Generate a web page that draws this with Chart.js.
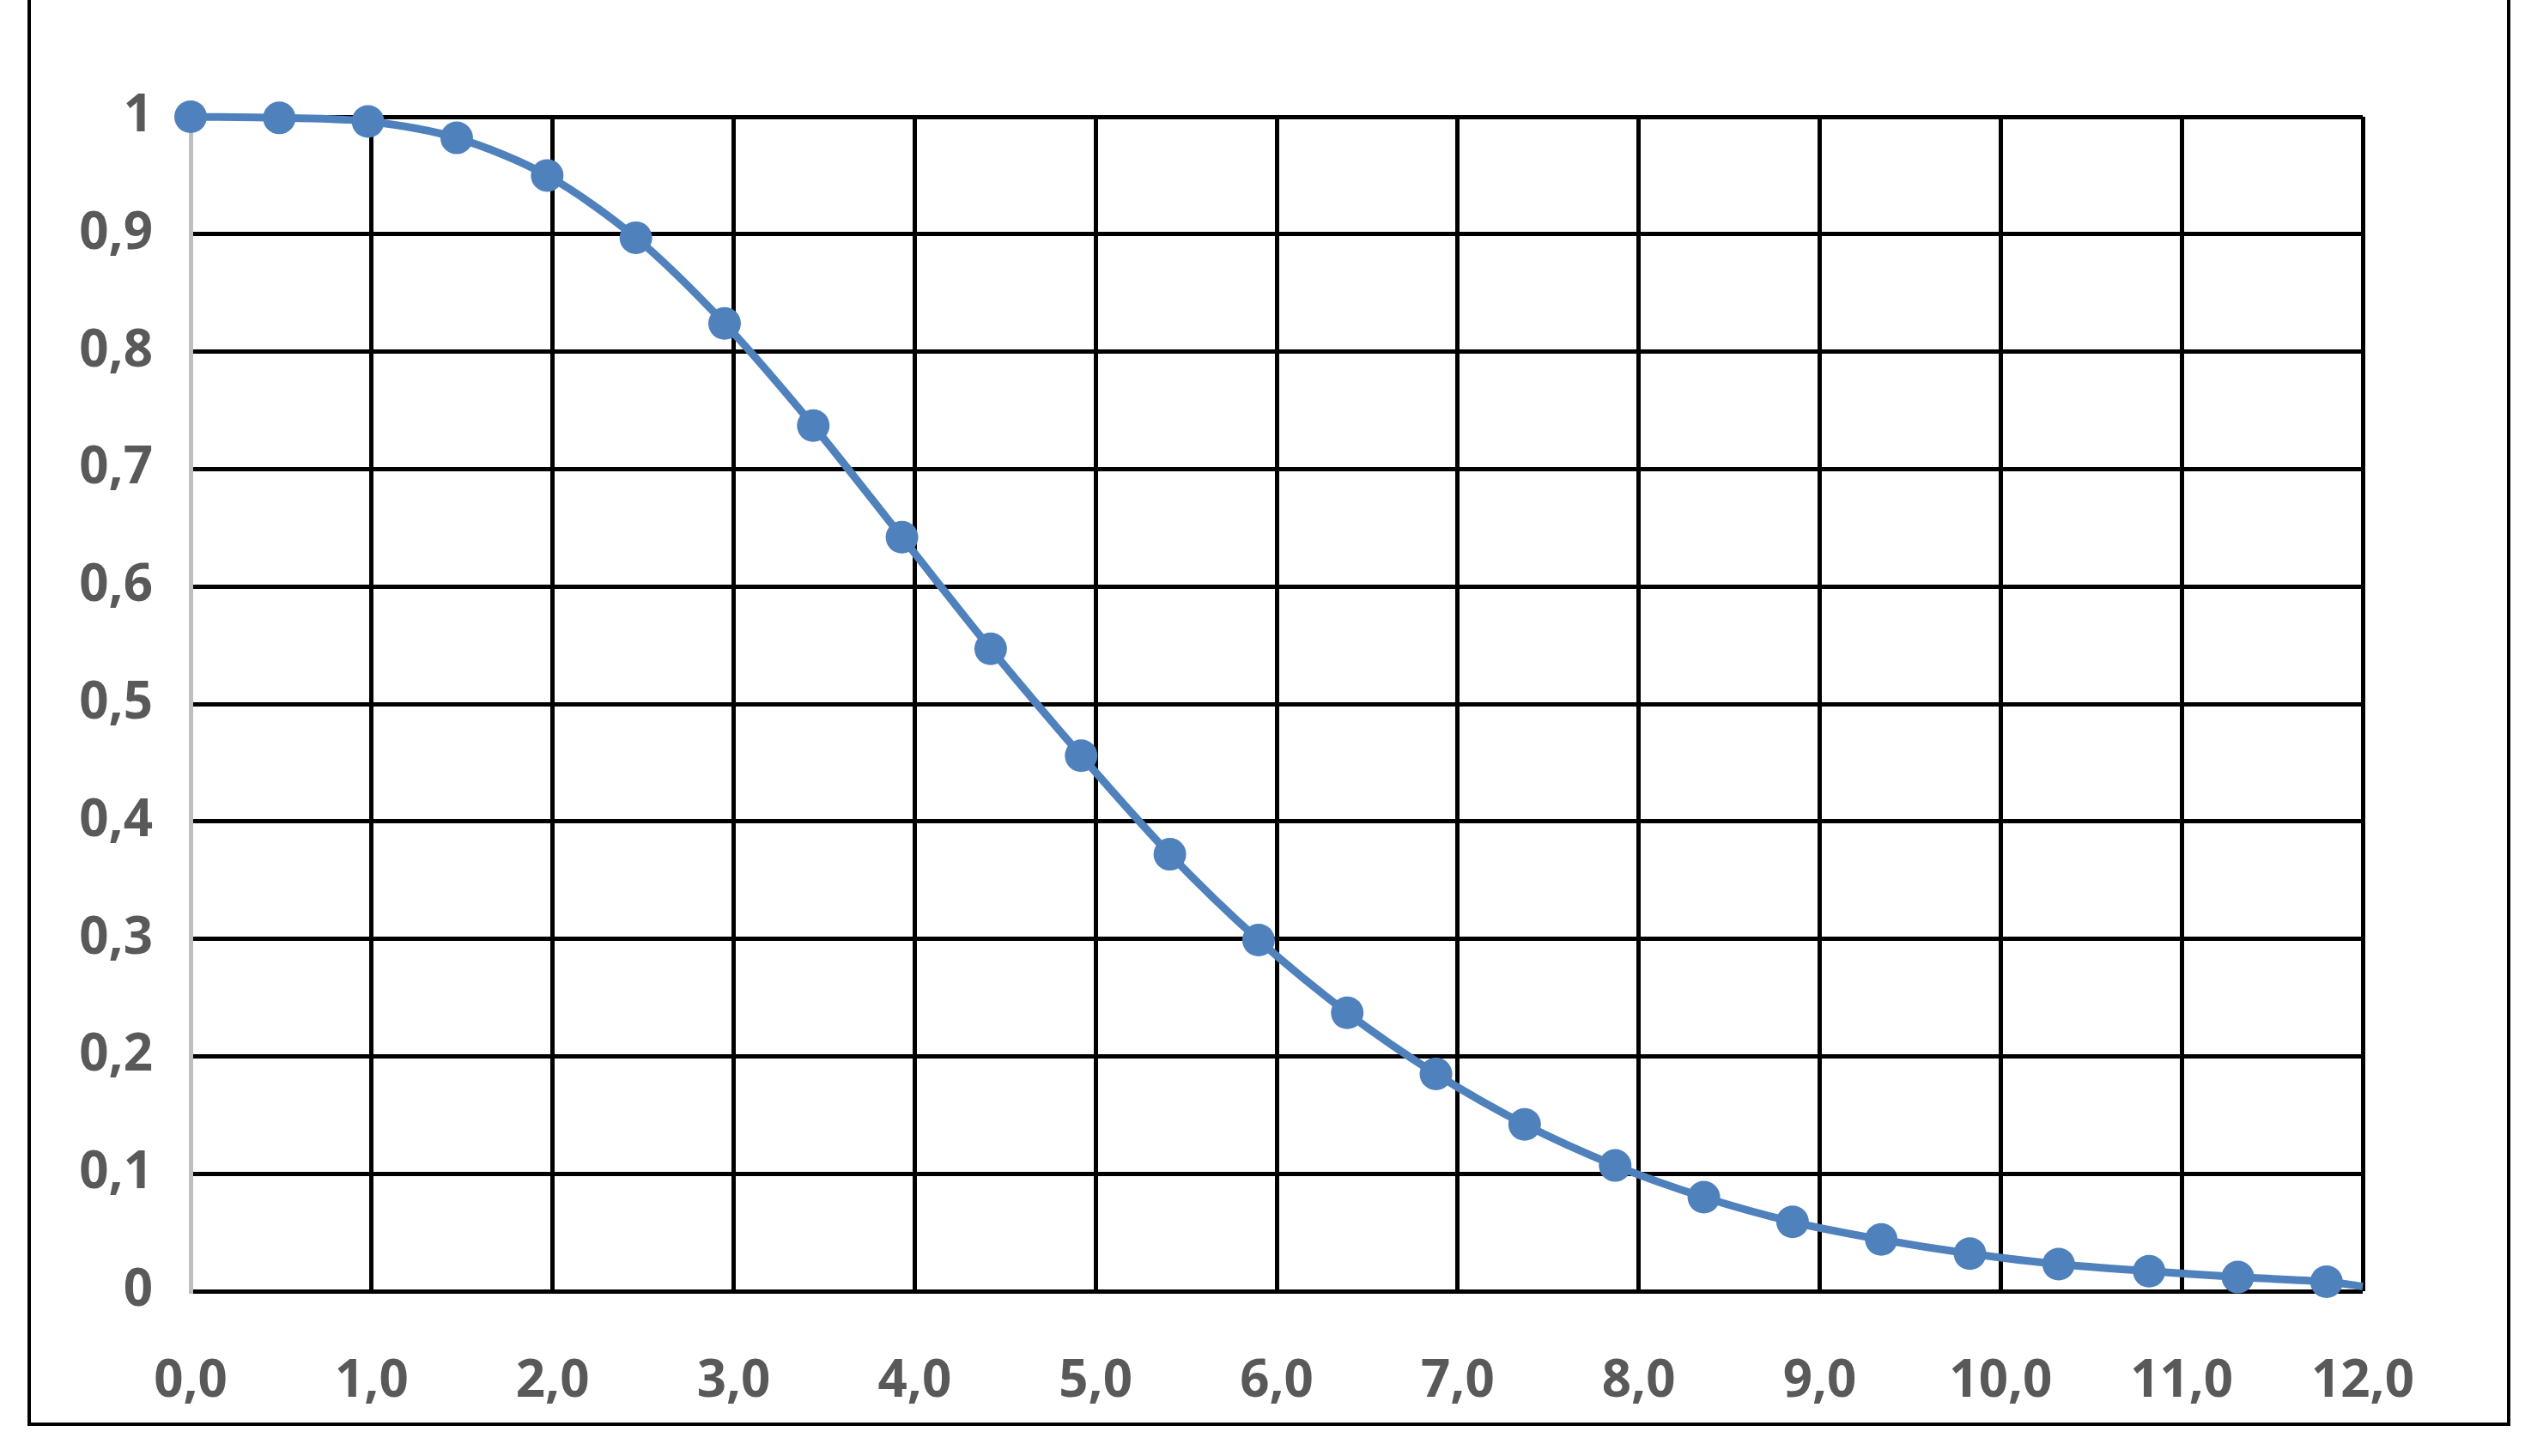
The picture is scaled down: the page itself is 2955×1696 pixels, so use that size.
<!DOCTYPE html>
<html>
<head>
<meta charset="utf-8">
<script src="https://cdn.jsdelivr.net/npm/chart.js@4"></script>
<style>
body { margin: 0; background: #fff; }
#frame { position: absolute; left: 32px; top: 0; width: 2884px; height: 1657px; border: 4px solid #000; border-top: none; }
#c { position: absolute; left: 0; top: 0; }
</style>
</head>
<body>
<div id="frame"></div>
<canvas id="c" width="2955" height="1696"></canvas>
<script>
// x positions of the markers and read-off values
const xValues = [0, 0.49, 0.98, 1.47, 1.97, 2.46, 2.95, 3.44, 3.93, 4.42, 4.92, 5.41, 5.9, 6.39, 6.88, 7.37, 7.87, 8.36, 8.85, 9.34, 9.83, 10.32, 10.82, 11.31, 11.8, 12];
const yValues = [1.0, 0.999, 0.996, 0.982, 0.950, 0.897, 0.824, 0.737, 0.642, 0.547, 0.456, 0.372, 0.299, 0.237, 0.185, 0.142, 0.107, 0.080, 0.059, 0.044, 0.032, 0.023, 0.017, 0.012, 0.008, 0.004];

const points = xValues.map((x, i) => ({ x: x, y: yValues[i] }));
const radii = xValues.map((x, i) => i === xValues.length - 1 ? 0 : 19);
const font = { family: 'Open Sans', size: 60, weight: 'bold' };

new Chart(document.getElementById('c'), {
    type: 'line',
    data: {
        datasets: [{
            data: points,
            borderColor: '#4f81bd',
            backgroundColor: '#4f81bd',
            borderWidth: 9,
            pointRadius: radii,
            pointBorderWidth: 0,
            tension: 0.3,
            clip: false
        }]
    },
    options: {
        responsive: false,
        animation: false,
        layout: { padding: { top: 136, right: 203, bottom: 42, left: 0 } },
        plugins: { legend: { display: false }, tooltip: { enabled: false } },
        scales: {
            x: {
                type: 'linear', min: 0, max: 12,
                afterFit: s => { s.height = 150; },
                border: { display: false },
                grid: { color: '#000', lineWidth: 5, drawTicks: false },
                ticks: { stepSize: 1, padding: 70, color: '#595959', font: font,
                    callback: v => v.toFixed(1).replace('.', ',') }
            },
            y: {
                min: 0, max: 1,
                afterFit: s => { s.width = 222; },
                border: { display: true, color: '#bfbfbf', width: 5 },
                grid: { color: '#000', lineWidth: 5, drawTicks: false },
                ticks: { stepSize: 0.1, padding: 44, color: '#595959', font: font,
                    callback: v => v === 1 ? '1' : v === 0 ? '0' : v.toFixed(1).replace('.', ',') }
            }
        }
    }
});
</script>
</body>
</html>
